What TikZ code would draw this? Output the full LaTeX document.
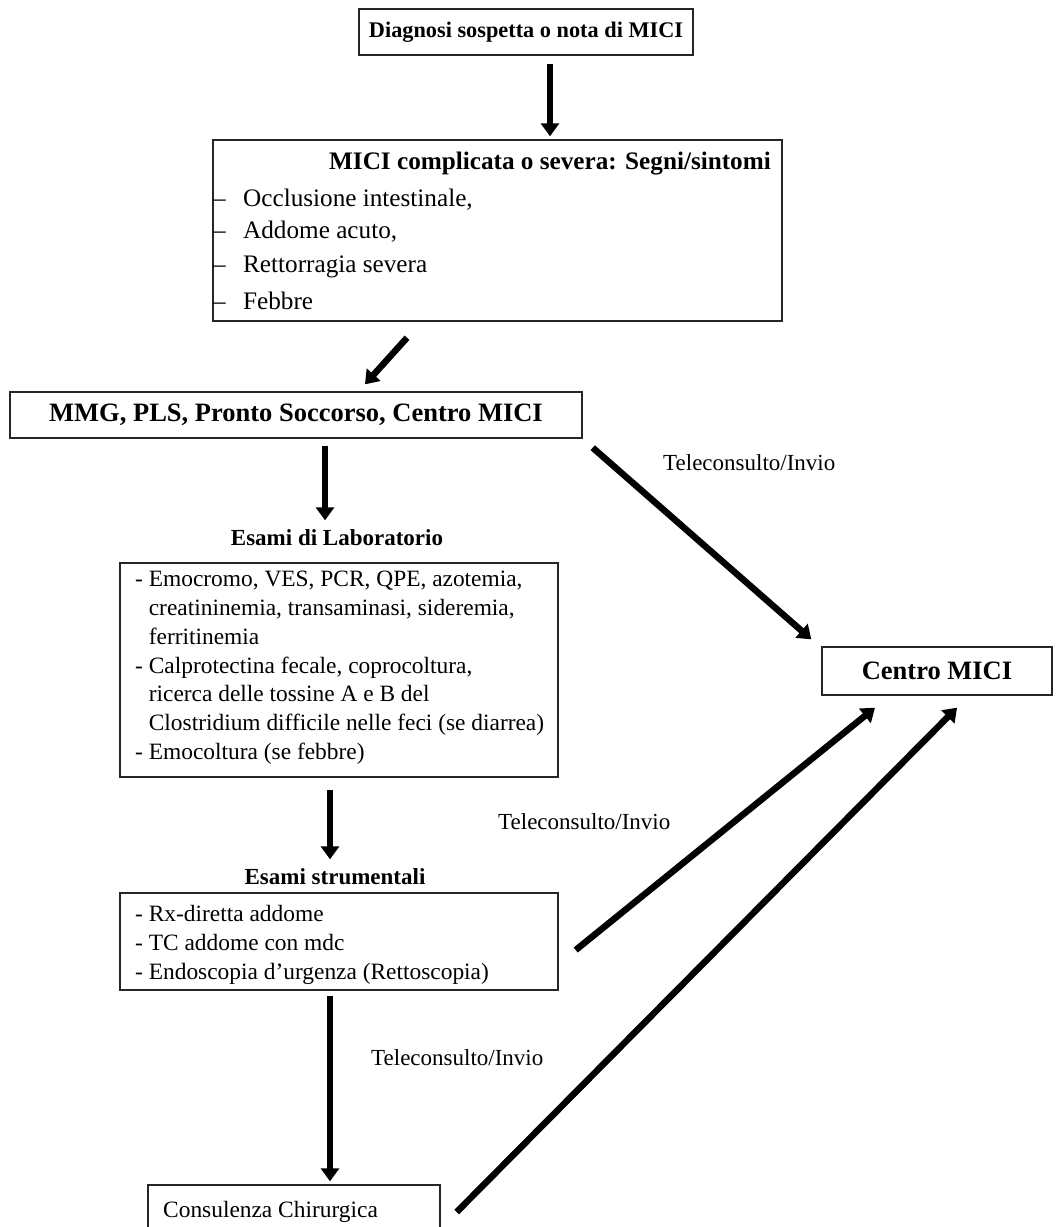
\documentclass[tikz,border=0pt]{standalone}
\usepackage{fontspec}
\setmainfont{Liberation Serif}
\usetikzlibrary{arrows.meta}

\tikzset{
  box/.style={draw=black!85, line width=1.4pt, inner sep=0pt},
  txt/.style={inner sep=0pt, font=\fontsize{23.4}{28.8}\selectfont},
  symtxt/.style={inner sep=0pt, font=\fontsize{25.2}{30}\selectfont},
  head/.style={inner sep=0pt, font=\fontsize{23}{27}\selectfont\bfseries},
  arr/.style={line width=6.5pt, -{Triangle[length=13pt,width=18pt]}}
}

\begin{document}
\begin{tikzpicture}[x=1pt,y=-1pt]
\useasboundingbox (0,0) rectangle (1062,1227);
\fill[white] (0,0) rectangle (1062,1227);

 % boxes
 \begin{scope}[every node/.style={box}]
  \node (diag) at (526,32) [minimum width=334pt, minimum height=46pt,
     font=\fontsize{22.3}{26}\selectfont\bfseries] {Diagnosi sospetta o nota di MICI};
  \node (symp) at (497.5,230.5) [minimum width=569pt, minimum height=181pt] {};
  \node (mmg) at (296,415) [minimum width=572pt, minimum height=46pt,
     font=\fontsize{26.5}{30}\selectfont\bfseries] {MMG, PLS, Pronto Soccorso, Centro MICI};
  \node (lab) at (339,670) [minimum width=438pt, minimum height=214pt] {};
  \node (strum) at (339,941.5) [minimum width=438pt, minimum height=97pt] {};
  \node (centro) at (937,671) [minimum width=230pt, minimum height=48pt,
     font=\fontsize{26.5}{30}\selectfont\bfseries] {Centro MICI};
  \node (chir) at (294,1217.5) [minimum width=292pt, minimum height=65pt] {};
 \end{scope}

 % texts
 \node[symtxt, font=\fontsize{25.2}{30}\selectfont\bfseries] (sympt) at (550,164)
   {MICI complicata o severa: Segni/sintomi};
 \begin{scope}[every node/.style={symtxt, anchor=west}]
  \node (s1) at (213,200) {\makebox[30pt][l]{–}Occlusione intestinale,};
  \node (s2) at (213,232) {\makebox[30pt][l]{–}Addome acuto,};
  \node (s3) at (213,267) {\makebox[30pt][l]{–}Rettorragia severa};
  \node (s4) at (213,301) {\makebox[30pt][l]{–}Febbre};
 \end{scope}
 \begin{scope}[every node/.style={txt, anchor=west}]
  \node (chirt) at (163,1212) {Consulenza Chirurgica};
  \node[font=\fontsize{23}{27}\selectfont] (tele1) at (663,463) {Teleconsulto/Invio};
  \node[font=\fontsize{23}{27}\selectfont] (tele2) at (498,822) {Teleconsulto/Invio};
  \node[font=\fontsize{23}{27}\selectfont] (tele3) at (371,1058) {Teleconsulto/Invio};
 \end{scope}
 \node[head] (labt) at (337,538) {Esami di Laboratorio};
 \node[head] (strumt) at (335,877) {Esami strumentali};
 \node[txt, anchor=north west, align=left] (labl) at (135,571) {%
   - Emocromo, VES, PCR, QPE, azotemia,\\
   \phantom{- }creatininemia, transaminasi, sideremia,\\
   \phantom{- }ferritinemia\\
   - Calprotectina fecale, coprocoltura,\\
   \phantom{- }ricerca delle tossine A e B del\\
   \phantom{- }Clostridium difficile nelle feci (se diarrea)\\
   - Emocoltura (se febbre)};
 \node[txt, anchor=north west, align=left] (struml) at (135,905) {%
   - Rx-diretta addome\\
   - TC addome con mdc\\
   - Endoscopia d’urgenza (Rettoscopia)};

 % arrows
 \path[arr] ([shift={(24,8)}]diag.south) edge ([shift={(52.5,-3)}]symp.north);
 \path[arr] ([shift={(-90.5,16)}]symp.south) edge ([shift={(69,-7)}]mmg.north);
 \path[arr] ([shift={(29,7)}]mmg.south) edge ([shift={(-14,-42)}]lab.north);
 \path[arr] ([shift={(10,9)}]mmg.south east) edge ([shift={(-10,-7)}]centro.north west);
 \path[arr] ([shift={(-9,12)}]lab.south) edge ([shift={(-9,-33)}]strum.north);
 \path[arr] ([shift={(17,8.5)}]strum.east) edge ([shift={(-62,12)}]centro.south);
 \path[arr] ([shift={(-9,5)}]strum.south) edge ([shift={(36,-3)}]chir.north);
 \path[arr] ([shift={(16,-5.5)}]chir.east) edge ([shift={(20,12)}]centro.south);
\end{tikzpicture}
\end{document}
